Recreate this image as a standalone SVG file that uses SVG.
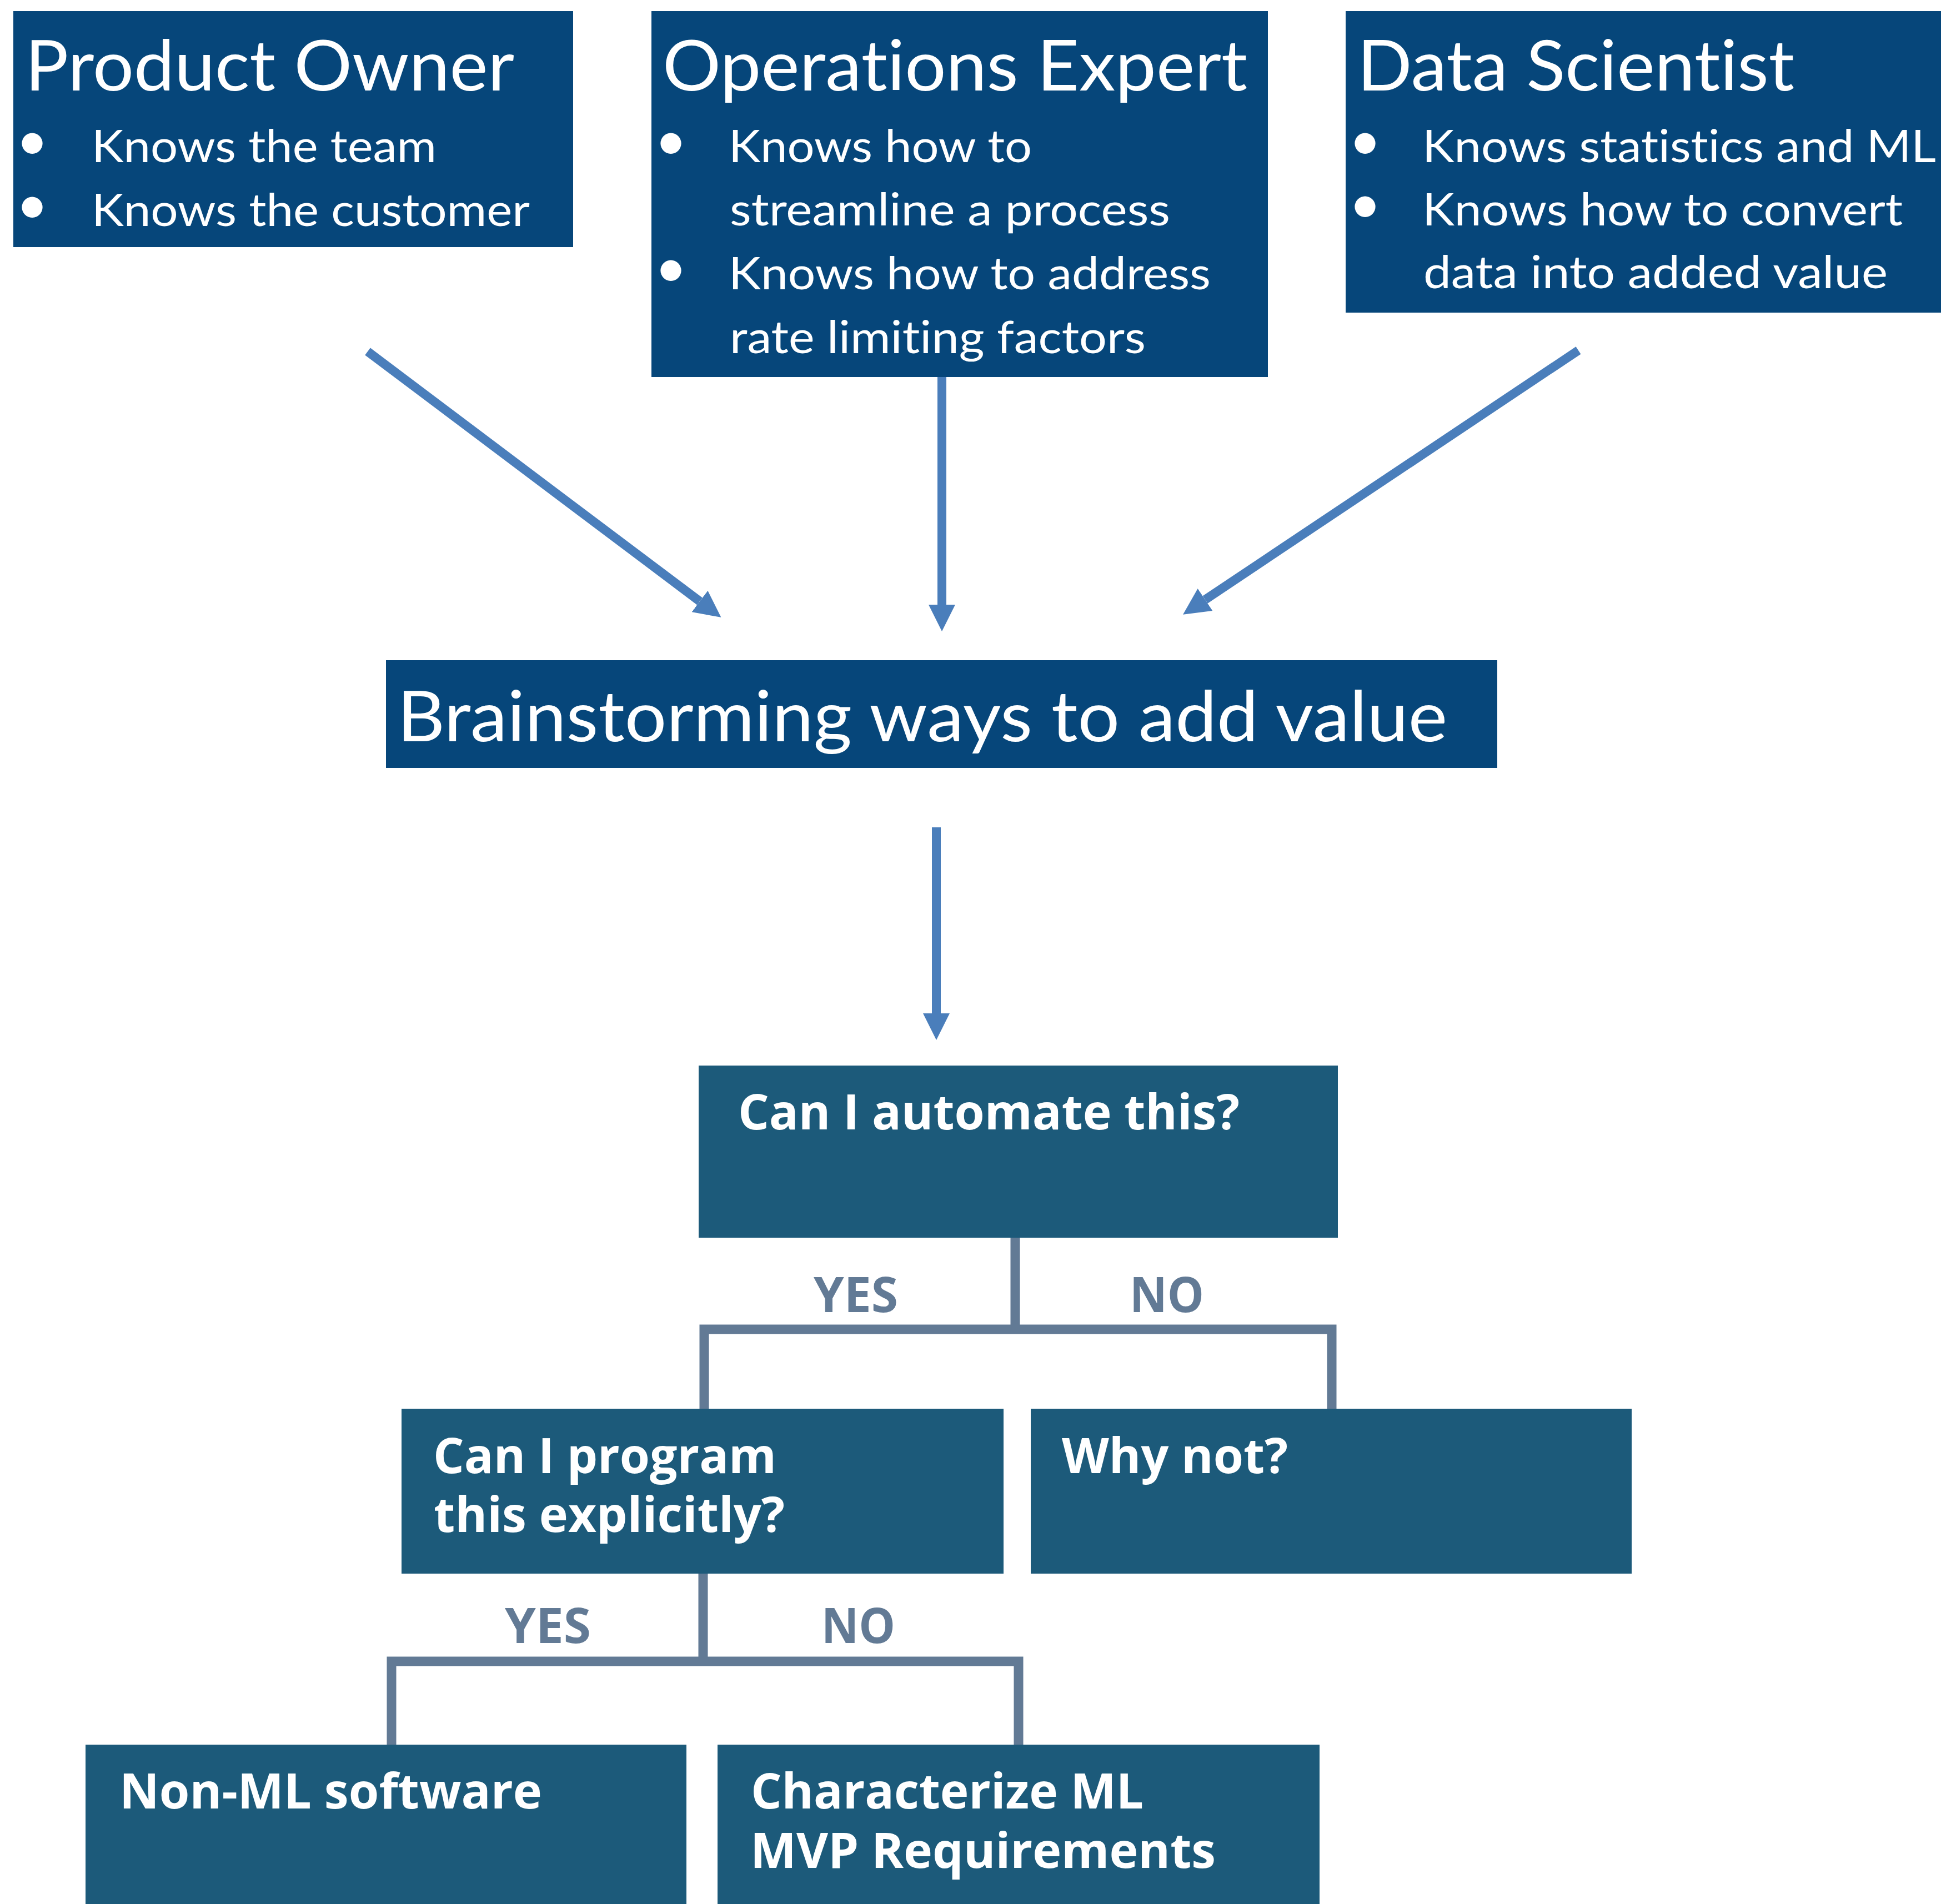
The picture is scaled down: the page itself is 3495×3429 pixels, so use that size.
<svg xmlns="http://www.w3.org/2000/svg" width="3495" height="3429" viewBox="0 0 3495 3429">
<style>
.top{fill:#06467a}
.low{fill:#1c5a7a}
.tt{font-family:Lato,"Liberation Sans",sans-serif;fill:#ffffff;font-variant-ligatures:none}
.h{font-size:126px}
.b{font-size:82px}
.dot{font-size:100px}
.bt{font-family:"Open Sans","Liberation Sans",sans-serif;font-weight:700;font-size:88px;fill:#ffffff}
.lbl{font-family:"Open Sans","Liberation Sans",sans-serif;font-weight:700;font-size:88px;fill:#627a95}
.arr{stroke:#4a7ebb;stroke-width:16;fill:none;marker-end:url(#ah)}
.tree{stroke:#627a95;stroke-width:17;fill:none;stroke-linejoin:miter}
</style>
<defs>
<marker id="ah" markerUnits="userSpaceOnUse" viewBox="0 0 48 48" refX="0" refY="24" markerWidth="48" markerHeight="48" orient="auto">
<path d="M0,0 L48,24 L0,48 Z" fill="#4a7ebb"/>
</marker>
</defs>
<rect width="3495" height="3429" fill="#ffffff"/>

<g id="product-owner">
<rect class="top" x="24" y="20" width="1008" height="425"/>
<text class="tt h" x="45" y="163" textLength="881" lengthAdjust="spacingAndGlyphs">Product Owner</text>
<text class="tt dot" x="29" y="288">•</text>
<text class="tt b" x="165" y="292" textLength="621" lengthAdjust="spacingAndGlyphs">Knows the team</text>
<text class="tt dot" x="29" y="403">•</text>
<text class="tt b" x="165" y="407" textLength="789" lengthAdjust="spacingAndGlyphs">Knows the customer</text>
</g>

<g id="operations-expert">
<rect class="top" x="1173" y="20" width="1110" height="659"/>
<text class="tt h" x="1193" y="163" textLength="1053" lengthAdjust="spacingAndGlyphs">Operations Expert</text>
<text class="tt dot" x="1179" y="288">•</text>
<text class="tt b" x="1312" y="292" textLength="546" lengthAdjust="spacingAndGlyphs">Knows how to</text>
<text class="tt b" x="1314" y="406" textLength="793" lengthAdjust="spacingAndGlyphs">streamline a process</text>
<text class="tt dot" x="1179" y="517">•</text>
<text class="tt b" x="1312" y="521" textLength="868" lengthAdjust="spacingAndGlyphs">Knows how to address</text>
<text class="tt b" x="1314" y="636" textLength="749" lengthAdjust="spacingAndGlyphs">rate limiting factors</text>
</g>

<g id="data-scientist">
<rect class="top" x="2423" y="20" width="1080" height="543"/>
<text class="tt h" x="2444" y="163" textLength="787" lengthAdjust="spacingAndGlyphs">Data Scientist</text>
<text class="tt dot" x="2429" y="288">•</text>
<text class="tt b" x="2561" y="292" textLength="925" lengthAdjust="spacingAndGlyphs">Knows statistics and ML</text>
<text class="tt dot" x="2429" y="402">•</text>
<text class="tt b" x="2561" y="406" textLength="865" lengthAdjust="spacingAndGlyphs">Knows how to convert</text>
<text class="tt b" x="2563" y="519" textLength="836" lengthAdjust="spacingAndGlyphs">data into added value</text>
</g>

<g id="brainstorming">
<rect class="top" x="695" y="1189" width="2001" height="194"/>
<text class="tt h" x="715" y="1335" textLength="1891" lengthAdjust="spacingAndGlyphs">Brainstorming ways to add value</text>
</g>

<g id="automate">
<rect class="low" x="1258" y="1919" width="1151" height="310"/>
<text class="bt" x="1329" y="2034" textLength="903" lengthAdjust="spacingAndGlyphs">Can I automate this?</text>
</g>

<g id="program">
<rect class="low" x="723" y="2537" width="1084" height="297"/>
<text class="bt"><tspan x="780" y="2653" textLength="618" lengthAdjust="spacingAndGlyphs">Can I program</tspan><tspan x="781" y="2759" textLength="632" lengthAdjust="spacingAndGlyphs">this explicitly?</tspan></text>
</g>

<g id="why-not">
<rect class="low" x="1856" y="2537" width="1082" height="297"/>
<text class="bt" x="1912" y="2653" textLength="407" lengthAdjust="spacingAndGlyphs">Why not?</text>
</g>

<g id="non-ml">
<rect class="low" x="154" y="3142" width="1082" height="300"/>
<text class="bt" x="215" y="3257" textLength="761" lengthAdjust="spacingAndGlyphs">Non-ML software</text>
</g>

<g id="characterize">
<rect class="low" x="1292" y="3142" width="1084" height="300"/>
<text class="bt"><tspan x="1352" y="3257" textLength="707" lengthAdjust="spacingAndGlyphs">Characterize ML</tspan><tspan x="1351" y="3364" textLength="838" lengthAdjust="spacingAndGlyphs">MVP Requirements</tspan></text>
</g>

<g id="connectors">
<line class="arr" x1="662" y1="633" x2="1260" y2="1083"/>
<line class="arr" x1="1696" y1="679" x2="1696" y2="1089"/>
<line class="arr" x1="2842" y1="631" x2="2170" y2="1080"/>
<line class="arr" x1="1686" y1="1490" x2="1686" y2="1825"/>
<line class="tree" x1="1828" y1="2229" x2="1828" y2="2394"/>
<polyline class="tree" points="1268,2537 1268,2394 2398,2394 2398,2537"/>
<line class="tree" x1="1266" y1="2834" x2="1266" y2="2992"/>
<polyline class="tree" points="705,3142 705,2992 1834,2992 1834,3142"/>
<text class="lbl" x="1465" y="2363" textLength="152" lengthAdjust="spacingAndGlyphs">YES</text>
<text class="lbl" x="2034" y="2363" textLength="134" lengthAdjust="spacingAndGlyphs">NO</text>
<text class="lbl" x="909" y="2959" textLength="155" lengthAdjust="spacingAndGlyphs">YES</text>
<text class="lbl" x="1479" y="2959" textLength="133" lengthAdjust="spacingAndGlyphs">NO</text>
</g>
</svg>
